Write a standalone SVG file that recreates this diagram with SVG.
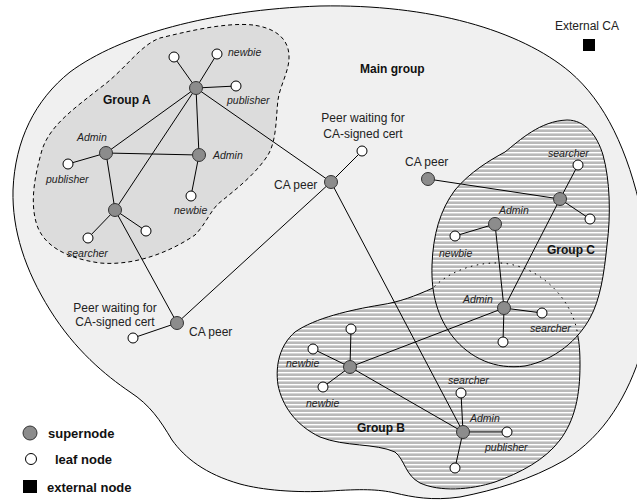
<svg xmlns="http://www.w3.org/2000/svg" width="637" height="500" viewBox="0 0 637 500">
  <defs>
    <!-- horizontal white-line hatch used for groups B and C -->
    <pattern id="hatch" patternUnits="userSpaceOnUse" width="8" height="4">
      <rect width="8" height="4" fill="#b9b9b9"/>
      <rect y="0" width="8" height="1.4" fill="#ffffff"/>
    </pattern>
    <style>
      .region { stroke: #000; stroke-width: 1; }
      .edge { stroke: #000; stroke-width: 1; fill: none; }
      .super { fill: #8c8c8c; stroke: #333; stroke-width: 1; }
      .leaf { fill: #fff; stroke: #000; stroke-width: 1; }
      .role { font-family: "Liberation Sans", Arial, sans-serif; font-size: 10.5px; font-style: italic; fill: #222; }
      .lbl { font-family: "Liberation Sans", Arial, sans-serif; font-size: 12px; fill: #222; }
      .grp { font-family: "Liberation Sans", Arial, sans-serif; font-size: 12px; font-weight: bold; fill: #111; }
      .legend { font-family: "Liberation Sans", Arial, sans-serif; font-size: 13px; font-weight: bold; fill: #111; }
    </style>
  </defs>

  <rect width="637" height="500" fill="#fff"/>

  <!-- regions -->
  <g id="main-group">
    <path class="region" fill="#f0f0f0" d="M 320,6 C 430,4 520,30 570,72 C 605,102 628,150 642,215 L 642,350 C 628,395 605,435 565,460 C 530,480 495,490 460,497 C 432,501 412,497 395,493 C 378,489 360,489 330,491 C 295,493 262,490 240,484 C 205,474 185,458 172,440 C 160,420 150,405 130,392 C 105,375 75,350 50,310 C 25,270 12,230 13,190 C 15,140 35,100 70,72 C 120,35 210,10 320,6 Z"/>
    <text class="grp" x="360" y="73" font-size="13">Main group</text>
  </g>

  <g id="group-a">
    <path fill="#dcdcdc" stroke="#000" stroke-width="1" stroke-dasharray="4,3" d="M 253,25 C 225,22 185,32 160,38 C 140,45 125,70 100,88 C 75,108 50,125 42,150 C 35,175 30,200 36,222 C 42,245 65,258 100,263 C 135,266 170,252 195,235 C 205,225 210,212 218,204 C 235,190 255,175 268,155 C 277,140 276,115 278,100 C 280,85 290,70 289,55 C 288,38 275,28 253,25 Z"/>
    <text class="grp" x="103" y="104">Group A</text>
  </g>

  <g id="group-b-fill">
    <path fill="url(#hatch)" d="M 433,288 C 415,296 400,302 380,305 C 350,310 315,318 295,332 C 280,345 275,365 278,385 C 282,405 295,425 320,437 C 345,447 375,443 395,452 C 405,460 405,475 420,483 C 440,492 470,490 495,482 C 520,473 545,460 560,440 C 575,420 580,395 580,365 C 580,350 579,342 578,337 C 574,300 540,265 500,263 C 470,262 445,275 433,288 Z"/>
  </g>

  <g id="group-c">
    <path class="region" fill="url(#hatch)" d="M 567,120 C 585,120 597,135 603,155 C 610,180 611,215 607,245 C 604,275 600,300 590,318 C 578,340 555,360 525,366 C 495,370 470,358 453,337 C 438,318 431,295 432,265 C 433,235 440,210 455,190 C 470,172 490,160 505,152 C 520,140 540,121 567,120 Z"/>
    <text class="grp" x="547" y="254">Group C</text>
  </g>

  <g id="group-b">
    <path class="edge" d="M 433,288 C 415,296 400,302 380,305 C 350,310 315,318 295,332 C 280,345 275,365 278,385 C 282,405 295,425 320,437 C 345,447 375,443 395,452 C 405,460 405,475 420,483 C 440,492 470,490 495,482 C 520,473 545,460 560,440 C 575,420 580,395 580,365 C 580,350 579,342 578,337"/>
    <path class="edge" stroke-dasharray="1.5,4.5" d="M 578,337 C 574,300 540,265 500,263 C 470,262 445,275 433,288"/>
    <text class="grp" x="357" y="432">Group B</text>
  </g>

  <!-- links -->
  <g id="connectors" class="edge">
    <line x1="196" y1="88" x2="174" y2="57"/>
    <line x1="196" y1="88" x2="217" y2="54"/>
    <line x1="196" y1="88" x2="236" y2="86"/>
    <line x1="196" y1="88" x2="106" y2="153"/>
    <line x1="196" y1="88" x2="199" y2="155"/>
    <line x1="196" y1="88" x2="115" y2="210"/>
    <line x1="196" y1="88" x2="331" y2="182"/>
    <line x1="106" y1="153" x2="199" y2="155"/>
    <line x1="106" y1="153" x2="68" y2="164"/>
    <line x1="106" y1="153" x2="115" y2="210"/>
    <line x1="199" y1="155" x2="191" y2="196"/>
    <line x1="115" y1="210" x2="88" y2="238"/>
    <line x1="115" y1="210" x2="146" y2="231"/>
    <line x1="115" y1="210" x2="177" y2="323"/>
    <line x1="331" y1="182" x2="362" y2="151"/>
    <line x1="331" y1="182" x2="177" y2="323"/>
    <line x1="331" y1="182" x2="463" y2="432"/>
    <line x1="177" y1="323" x2="133" y2="338"/>
    <line x1="428" y1="179" x2="560" y2="199"/>
    <line x1="560" y1="199" x2="578" y2="165"/>
    <line x1="560" y1="199" x2="590" y2="219"/>
    <line x1="560" y1="199" x2="504" y2="308"/>
    <line x1="495" y1="224" x2="455" y2="236"/>
    <line x1="495" y1="224" x2="504" y2="308"/>
    <line x1="504" y1="308" x2="542" y2="313"/>
    <line x1="504" y1="308" x2="503" y2="342"/>
    <line x1="504" y1="308" x2="350" y2="367"/>
    <line x1="350" y1="367" x2="351" y2="329"/>
    <line x1="350" y1="367" x2="313" y2="349"/>
    <line x1="350" y1="367" x2="323" y2="387"/>
    <line x1="350" y1="367" x2="463" y2="432"/>
    <line x1="463" y1="432" x2="461" y2="393"/>
    <line x1="463" y1="432" x2="507" y2="432"/>
    <line x1="463" y1="432" x2="455" y2="468"/>
  </g>

  <!-- group A nodes -->
  <g id="a-hub"><circle class="super" cx="196" cy="88" r="6.5"/></g>
  <g id="a-leaf-top"><circle class="leaf" cx="174" cy="57" r="5"/></g>
  <g id="a-newbie"><circle class="leaf" cx="217" cy="54" r="5"/><text class="role" x="228" y="56">newbie</text></g>
  <g id="a-publisher"><circle class="leaf" cx="236" cy="86" r="5"/><text class="role" x="227" y="104">publisher</text></g>
  <g id="a-admin-left"><circle class="super" cx="106" cy="153" r="6.5"/><text class="role" x="77" y="141">Admin</text></g>
  <g id="a-admin-right"><circle class="super" cx="199" cy="155" r="6.5"/><text class="role" x="213" y="159">Admin</text></g>
  <g id="a-publisher-left"><circle class="leaf" cx="68" cy="164" r="5"/><text class="role" x="46" y="183">publisher</text></g>
  <g id="a-newbie-low"><circle class="leaf" cx="191" cy="196" r="5"/><text class="role" x="174" y="214">newbie</text></g>
  <g id="a-lower"><circle class="super" cx="115" cy="210" r="6.5"/></g>
  <g id="a-searcher"><circle class="leaf" cx="88" cy="238" r="5"/><text class="role" x="67" y="257">searcher</text></g>
  <g id="a-leaf-right"><circle class="leaf" cx="146" cy="231" r="5"/></g>

  <!-- CA peers and waiting peers -->
  <g id="ca-peer-mid"><circle class="super" cx="331" cy="182" r="6.5"/><text class="lbl" x="274" y="189">CA peer</text></g>
  <g id="waiting-mid"><circle class="leaf" cx="362" cy="151" r="5"/><text class="lbl" x="363" y="122" text-anchor="middle">Peer waiting for</text><text class="lbl" x="363" y="138" text-anchor="middle">CA-signed cert</text></g>
  <g id="ca-peer-low"><circle class="super" cx="177" cy="323" r="6.5"/><text class="lbl" x="189" y="336">CA peer</text></g>
  <g id="waiting-low"><circle class="leaf" cx="133" cy="338" r="5"/><text class="lbl" x="115" y="312" text-anchor="middle">Peer waiting for</text><text class="lbl" x="115" y="326" text-anchor="middle">CA-signed cert</text></g>
  <g id="ca-peer-right"><circle class="super" cx="428" cy="179" r="6.5"/><text class="lbl" x="405" y="166">CA peer</text></g>

  <!-- group C nodes -->
  <g id="c-hub"><circle class="super" cx="560" cy="199" r="6.5"/></g>
  <g id="c-searcher"><circle class="leaf" cx="578" cy="165" r="5"/><text class="role" x="548" y="157">searcher</text></g>
  <g id="c-leaf-right"><circle class="leaf" cx="590" cy="219" r="5"/></g>
  <g id="c-admin"><circle class="super" cx="495" cy="224" r="6.5"/><text class="role" x="499" y="214">Admin</text></g>
  <g id="c-newbie"><circle class="leaf" cx="455" cy="236" r="5"/><text class="role" x="439" y="257">newbie</text></g>
  <g id="bc-admin"><circle class="super" cx="504" cy="308" r="6.5"/><text class="role" x="463" y="303">Admin</text></g>
  <g id="bc-searcher"><circle class="leaf" cx="542" cy="313" r="5"/><text class="role" x="530" y="332">searcher</text></g>
  <g id="bc-leaf-low"><circle class="leaf" cx="503" cy="342" r="5"/></g>

  <!-- group B nodes -->
  <g id="b-hub"><circle class="super" cx="350" cy="367" r="6.5"/></g>
  <g id="b-leaf-top"><circle class="leaf" cx="351" cy="329" r="5"/></g>
  <g id="b-newbie-up"><circle class="leaf" cx="313" cy="349" r="5"/><text class="role" x="286" y="367">newbie</text></g>
  <g id="b-newbie-low"><circle class="leaf" cx="323" cy="387" r="5"/><text class="role" x="306" y="407">newbie</text></g>
  <g id="b-admin"><circle class="super" cx="463" cy="432" r="6.5"/><text class="role" x="470" y="422">Admin</text></g>
  <g id="b-searcher"><circle class="leaf" cx="461" cy="393" r="5"/><text class="role" x="448" y="384">searcher</text></g>
  <g id="b-publisher"><circle class="leaf" cx="507" cy="432" r="5"/><text class="role" x="485" y="451">publisher</text></g>
  <g id="b-leaf-low"><circle class="leaf" cx="455" cy="468" r="5"/></g>

  <!-- external authority -->
  <g id="external-ca">
    <text class="lbl" x="555" y="30" font-size="13">External CA</text>
    <rect x="583" y="39" width="12" height="12" fill="#000"/>
  </g>

  <!-- key -->
  <g id="legend">
    <circle class="super" cx="30" cy="433" r="7"/>
    <text class="legend" x="48" y="438">supernode</text>
    <circle class="leaf" cx="31" cy="459" r="5.5"/>
    <text class="legend" x="55" y="464">leaf node</text>
    <rect x="23" y="480" width="14" height="13" fill="#000"/>
    <text class="legend" x="47" y="492">external node</text>
  </g>
</svg>
